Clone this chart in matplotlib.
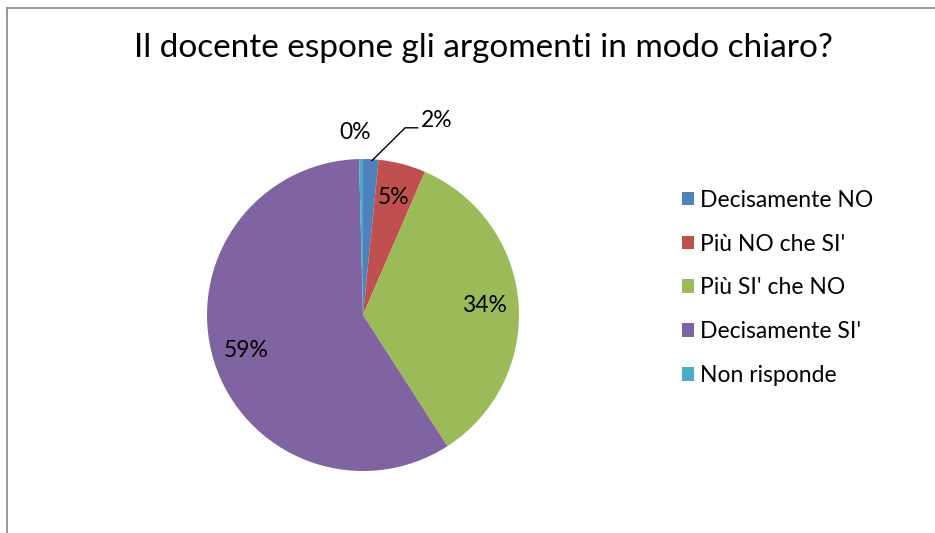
import matplotlib.pyplot as plt
from matplotlib.lines import Line2D

plt.rcParams['font.family'] = ['Lato', 'DejaVu Sans']

# Data
categories = ['Decisamente NO', "Più NO che SI'", "Più SI' che NO", "Decisamente SI'", 'Non risponde']
shares = [1.6, 4.9, 34.4, 58.7, 0.4]
colors = ['#4F81BD', '#C0504D', '#9BBB59', '#8064A2', '#4BACC6']
title = 'Il docente espone gli argomenti in modo chiaro?'

W, H = 935, 533
fig = plt.figure(figsize=(W / 100, H / 100), dpi=100)

# frame (top and left edges visible in the crop)
fig.add_artist(Line2D([7 / W, 7 / W], [0, 1 - 8 / H], color='#888888', lw=1.2))
fig.add_artist(Line2D([7 / W, 1], [1 - 8 / H, 1 - 8 / H], color='#888888', lw=1.2))

fig.text(483 / W, 1 - 48 / H, title, ha='center', va='center', fontsize=24)

# pie axes: center (363, 315), radius 156 px
ax = fig.add_axes([207 / W, (H - 471) / H, 312 / W, 312 / H])
wedges, texts, autotexts = ax.pie(shares, colors=colors, startangle=90, counterclock=False,
                                  autopct='%1.0f%%', pctdistance=0.78,
                                  textprops={'fontsize': 16.5, 'color': 'black'})
ax.set_xlim(-1, 1)
ax.set_ylim(-1, 1)
ax.set_aspect('equal')

# small slices: labels outside
autotexts[4].set_position((-0.05, 1.17))
autotexts[0].set_position((0.37, 1.25))
autotexts[0].set_ha('left')
ax.plot([0.058, 0.27, 0.35], [0.99, 1.2, 1.2], color='black', lw=1, clip_on=False)

fig.legend(wedges, categories, loc='upper left', bbox_to_anchor=(661 / W, 1 - 169 / H),
           frameon=False, fontsize=16.5, handlelength=0.55, handleheight=0.55,
           handletextpad=0.25, labelspacing=1.0)

fig.savefig('out.png', dpi=100)
